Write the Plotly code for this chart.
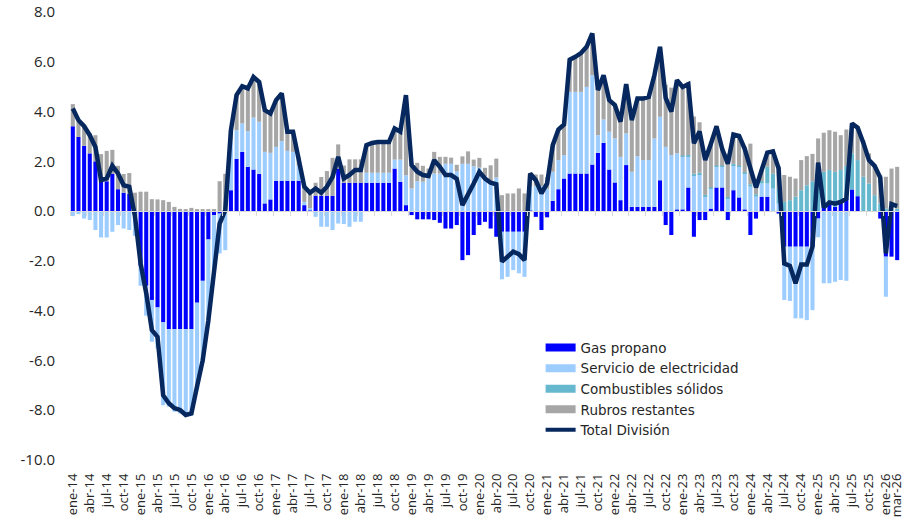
import plotly.graph_objects as go

MESES = ["ene", "feb", "mar", "abr", "may", "jun", "jul", "ago", "sep", "oct", "nov", "dic"]
months = [f"{m}-{y:02d}" for y in range(14, 27) for m in MESES][:147]  # ene-14 .. mar-26

gas_propano = [
    3.41, 2.98, 2.62, 2.32, 2.0, 1.2, 1.2, 1.5, 0.88, 0.74, 0.7, -0.1,
    -2.2, -3.0, -3.57, -3.87, -4.47, -4.74, -4.74, -4.74, -4.74, -4.74, -3.68, -2.8,
    -1.14, -0.16, -0.1, 0.0, 0.84, 2.1, 2.38, 1.78, 1.67, 1.49, 0.31, 0.47,
    1.22, 1.22, 1.22, 1.22, 1.22, 0.24, 0.02, 0.62, 0.62, 0.62, 0.62, 1.71,
    1.14, 1.14, 1.14, 1.14, 1.14, 1.14, 1.14, 1.14, 1.14, 1.71, 1.18, 0.24,
    -0.16, -0.33, -0.33, -0.33, -0.36, -0.47, -0.7, -0.7, -0.56, -1.97, -1.77, -0.96,
    -0.56, -0.43, -0.7, -1.03, -0.83, -0.83, -0.83, -0.83, -0.83, 0.02, -0.23, -0.76,
    -0.25, 0.41, 0.88, 1.31, 1.51, 1.51, 1.51, 1.51, 1.87, 2.34, 2.74, 1.67,
    1.15, 0.44, 1.85, 0.17, 0.17, 0.17, 0.17, 0.17, 1.24, -0.56, -0.96, 0.07,
    0.07, 0.95, -1.03, -0.36, -0.36, 0.1, 0.95, 0.95, -0.36, 0.84, 0.55, 0.07,
    -0.96, -0.3, 0.58, 0.58, 0.0, -0.1, -1.43, -1.43, -1.43, -1.43, -1.43, -1.43,
    -0.3, 0.17, 0.28, 0.17, 0.44, 0.51, 0.87, 0.6, 0.0, 0.0, 0.0, -0.3,
    -1.83, -1.83, -1.97,
]

electricidad = [
    -0.2, -0.12, -0.3, -0.36, -0.76, -1.06, -1.06, -0.83, -0.56, -0.7, -0.76, -0.9,
    -0.8, -1.2, -1.68, -1.65, -3.33, -3.12, -3.32, -3.39, -3.46, -3.46, -3.45, -3.28,
    -3.34, -2.16, -1.6, -1.57, 2.0, 1.15, 1.14, 1.43, 2.09, 2.1, 2.07, 1.87,
    1.36, 1.59, 1.2, 1.16, 0.6, 0.13, 0.1, -0.23, -0.63, -0.63, -0.76, -0.5,
    -0.52, -0.63, -0.43, -0.43, 0.4, 0.4, 0.4, 0.4, 0.4, 0.36, 0.89, 1.2,
    0.91, 1.2, 1.18, 1.31, 1.51, 1.51, 1.9, 1.9, 1.6, 1.9, 1.9, 1.8,
    1.75, 1.4, 1.2, 1.35, -1.91, -1.81, -1.54, -1.67, -1.81, 1.0, 1.0, 1.0,
    0.9, 1.17, 1.17, 0.94, 3.28, 3.28, 3.28, 3.48, 3.59, 0.71, 0.94, 1.52,
    1.77, 1.74, 1.27, 1.41, 2.03, 1.88, 1.88, 2.75, 2.55, 2.58, 2.25, 2.25,
    2.11, 1.25, 1.45, 1.49, 0.6, 0.8, 0.83, 0.83, 0.51, 1.01, 1.23, 1.44,
    0.98, 0.58, 0.53, 0.53, 0.9, 0.3, -2.14, -2.18, -2.88, -2.88, -2.95, -2.55,
    -0.75, -2.9, -2.9, -2.84, -2.77, -2.8, 0.0, 0.0, 0.0, 0.0, 0.0, 0.0,
    -1.61, 0.0, 0.0,
]

combustibles = [0.0] * 108 + [
    0.05, 0.05, 0.05, 0.05, 0.05, 0.05, 0.05, 0.05, 0.05, 0.05, 0.05, 0.05,
    0.1, 0.1, 0.1, 0.67, 0.6, 0.6, 0.37, 0.44, 0.58, 0.84, 1.04, 1.2,
    1.3, 1.41, 1.37, 1.41, 1.21, 1.3, 1.45, 1.45, 1.38, 1.11, 0.64, 0.31,
    0.1, 0.1, 0.1,
]

rubros_restantes = [
    0.89, 0.6, 0.83, 0.8, 1.05, 1.09, 1.22, 0.96, 0.94, 0.75, 0.83, 0.74,
    0.78, 0.78, 0.48, 0.47, 0.44, 0.37, 0.17, 0.09, 0.08, 0.13, 0.08, 0.08,
    0.08, 0.08, 1.2, 1.5, 0.4, 1.4, 1.5, 1.69, 1.63, 1.6, 1.68, 1.58,
    1.88, 1.92, 0.77, 0.81, 0.36, 0.61, 0.62, 0.52, 0.75, 0.99, 1.52, 0.97,
    0.69, 0.94, 0.94, 0.94, 1.11, 1.2, 1.24, 1.24, 1.24, 1.25, 1.05, 3.2,
    1.03, 0.74, 0.64, 0.4, 0.87, 0.67, 0.28, 0.25, 0.26, 0.3, 0.5, 0.27,
    0.39, 0.34, 0.64, 0.76, 0.64, 0.71, 0.71, 0.91, 0.71, 0.5, 0.47, 0.47,
    0.46, 1.07, 1.23, 1.23, 1.29, 1.41, 1.56, 1.61, 1.68, 1.81, 1.78, 1.27,
    1.34, 1.41, 1.98, 2.07, 2.32, 2.47, 2.54, 2.54, 2.81, 2.5, 2.71, 2.94,
    2.81, 2.93, 2.3, 2.03, 1.7, 1.8, 1.62, 0.72, 1.75, 1.23, 1.24, 1.0,
    1.63, 0.57, 0.44, 0.57, 0.9, 0.91, 1.08, 0.94, 0.73, 1.21, 1.17, 1.1,
    1.62, 1.57, 1.6, 1.61, 1.4, 1.47, 1.23, 1.34, 1.47, 1.21, 1.14, 1.14,
    1.28, 1.61, 1.68,
]

total_division = [
    4.12, 3.65, 3.41, 3.05, 2.58, 1.24, 1.31, 1.82, 1.51, 1.04, 0.98, -0.2,
    -2.1, -3.3, -4.78, -5.05, -7.4, -7.72, -7.92, -7.99, -8.19, -8.13, -7.05, -6.0,
    -4.4, -2.24, -0.5, 0.04, 3.25, 4.66, 5.02, 4.93, 5.39, 5.19, 4.06, 3.92,
    4.46, 4.73, 3.19, 3.19, 2.18, 0.98, 0.74, 0.91, 0.74, 0.98, 1.38, 2.18,
    1.31, 1.45, 1.65, 1.65, 2.65, 2.74, 2.78, 2.78, 2.78, 3.32, 3.19, 4.66,
    1.85, 1.58, 1.45, 1.41, 2.05, 1.78, 1.45, 1.45, 1.3, 0.24, 0.64, 1.11,
    1.58, 1.31, 1.14, 1.08, -2.03, -1.83, -1.63, -1.73, -1.97, 1.51, 1.24, 0.71,
    1.11, 2.65, 3.28, 3.48, 6.08, 6.2, 6.35, 6.6, 7.14, 4.86, 5.46, 4.46,
    4.26, 3.59, 5.1, 3.65, 4.52, 4.52, 4.59, 5.46, 6.6, 4.55, 4.0, 5.26,
    4.99, 5.1, 2.72, 3.2, 2.05, 2.7, 3.4, 2.5, 1.9, 3.08, 3.02, 2.5,
    1.75, 0.95, 1.65, 2.35, 2.4, 1.71, -2.1, -2.2, -2.9, -2.15, -2.15, -1.43,
    1.95, 0.15, 0.35, 0.3, 0.37, 0.5, 3.52, 3.35, 2.75, 2.05, 1.82, 1.35,
    -1.7, 0.28, 0.2,
]

tick_labels = months[::3] + [months[-1]]
y_ticks = [8, 6, 4, 2, 0, -2, -4, -6, -8, -10]

FONT = "Open Sans"
TXT = "#262626"
fig = go.Figure()
series = [
    ("Gas propano", gas_propano, "#0000FF"),
    ("Servicio de electricidad", electricidad, "#9DCDFF"),
    ("Combustibles sólidos", combustibles, "#66B8CF"),
    ("Rubros restantes", rubros_restantes, "#A6A6A6"),
]
for name, vals, col in series:
    fig.add_trace(go.Bar(x=months, y=vals, name=name, showlegend=False,
                         marker=dict(color=col, line=dict(width=0))))
fig.add_trace(go.Scatter(x=months, y=total_division, name="Total División", mode="lines",
                         showlegend=False, line=dict(color="#06285E", width=4.5)))

# legend proxies (wide flat swatches like the original legend)
for name, _, col in series:
    fig.add_trace(go.Scatter(x=[months[0]], y=[None], name=name, mode="lines",
                             line=dict(color=col, width=8), hoverinfo="skip"))
fig.add_trace(go.Scatter(x=[months[0]], y=[None], name="Total División", mode="lines",
                         line=dict(color="#06285E", width=4), hoverinfo="skip"))

# helper trace for the axis that carries the small tick marks on the zero line
fig.add_trace(go.Scatter(x=months, y=[None] * len(months), xaxis="x2", showlegend=False,
                         hoverinfo="skip", mode="lines"))

fig.update_layout(
    width=906, height=527,
    margin=dict(l=70, r=6, t=12, b=67),
    barmode="relative", bargap=0.28,
    plot_bgcolor="white", paper_bgcolor="white",
    font=dict(family=FONT, color=TXT, size=14),
    showlegend=True,
    legend=dict(x=0.567, y=0.285, xanchor="left", yanchor="top",
                bgcolor="rgba(0,0,0,0)", font=dict(size=13.5, family="DejaVu Sans", color=TXT),
                tracegroupgap=0, itemwidth=30),
    xaxis=dict(type="category", categoryorder="array", categoryarray=months,
               range=[-0.5, len(months) - 0.5], automargin=False,
               tickmode="array", tickvals=tick_labels, ticktext=tick_labels,
               tickangle=-90, showgrid=False, showline=False, ticks="",
               ticklabelstandoff=10,
               tickfont=dict(size=13, family=FONT, color=TXT)),
    xaxis2=dict(type="category", categoryorder="array", categoryarray=months,
                range=[-0.5, len(months) - 0.5], overlaying="x", anchor="free",
                position=10 / 18, showline=True, linecolor="#D9D9D9", linewidth=1,
                tickmode="array", tickvals=months[::3], tickson="boundaries",
                ticks="outside", ticklen=4, tickcolor="#D9D9D9",
                showticklabels=False, showgrid=False),
    yaxis=dict(range=[-10, 8], tickmode="array", tickvals=y_ticks, automargin=False,
               ticktext=[f"{v:.1f}" for v in y_ticks], showgrid=False, zeroline=False,
               showline=False, ticks="", ticklabelstandoff=14,
               tickfont=dict(size=15, family=FONT, color=TXT)),
)

fig.write_html("out.html", config={"displayModeBar": False},
               post_script="document.body.style.margin='0px';")
